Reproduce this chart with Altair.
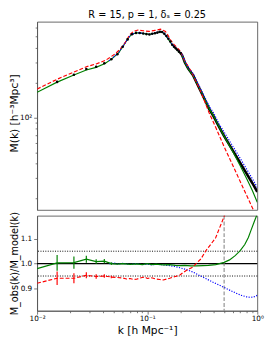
import altair as alt
import pandas as pd

FONT = "DejaVu Sans"
AX = "#555555"

# ---------------- top panel: M(k) ----------------
# observed M(k): binned points (black dots) and the dense high-k part (thick black)
k_obs_pts = [0.0152, 0.0216, 0.0280, 0.0344, 0.0408, 0.0472, 0.0536, 0.0600, 0.0664, 0.0728,
             0.0792, 0.0856, 0.0920, 0.0984, 0.1048, 0.1112, 0.1176, 0.1240, 0.1304, 0.1368,
             0.1432, 0.1496, 0.1560, 0.1624, 0.1688, 0.1752, 0.1816, 0.1880, 0.1944, 0.2008]
m_obs_pts = [203, 234, 262, 274, 294, 318, 352, 408, 472, 522,
             537, 536, 530, 524, 521, 527, 533, 540, 548, 546,
             528, 505, 478, 452, 425, 408, 395, 382, 370, 360]
k_obs_line = [0.2008, 0.2072, 0.2136, 0.22, 0.236, 0.261, 0.298, 0.341, 0.365, 0.4,
              0.45, 0.5, 0.6, 0.7, 0.8, 0.9, 1.0]
m_obs_line = [360, 346, 322, 298, 264, 232, 178, 137, 119, 103,
              83, 69.2, 51.8, 40.6, 32.9, 27.3, 22.9]

k_green = [0.010, 0.0152, 0.0216, 0.028, 0.0343, 0.0414, 0.048, 0.055, 0.0608, 0.0673,
           0.072, 0.0796, 0.088, 0.0965, 0.1045, 0.1156, 0.1324, 0.1417, 0.152, 0.168,
           0.192, 0.206, 0.22, 0.236, 0.261, 0.298, 0.341, 0.365, 0.4, 0.45,
           0.5, 0.6, 0.7, 0.8, 0.9, 1.0]
m_green = [165, 202, 233, 257, 271, 292, 322, 361, 416, 483,
           521, 538, 535, 527, 521, 532, 550, 532, 489, 425,
           373, 350, 298, 262, 231, 180, 138, 120, 104, 83.5,
           69, 50.8, 38.5, 29.9, 23.6, 18.6]

k_red = [0.010, 0.0152, 0.0216, 0.028, 0.0344, 0.042, 0.0514, 0.057, 0.063, 0.0697,
         0.0757, 0.0824, 0.092, 0.1045, 0.118, 0.1324, 0.1466, 0.155, 0.162, 0.175,
         0.192, 0.2, 0.22, 0.25, 0.278, 0.3, 0.34, 0.365, 0.42, 0.5,
         0.6, 0.7, 0.8, 0.9, 1.0]
m_red = [176, 214, 247, 274, 290, 312, 355, 390, 442, 520,
         556, 568, 560, 553, 565, 578, 552, 510, 470, 428,
         390, 375, 306, 252, 205, 176, 131, 110, 82, 56.1,
         38.6, 28.1, 21.4, 16.8, 13.4]

k_blue = [0.045, 0.055, 0.0608, 0.0673, 0.072, 0.0796, 0.088, 0.0965, 0.1045, 0.1156,
          0.1324, 0.1417, 0.152, 0.168, 0.192, 0.206, 0.22, 0.236, 0.261, 0.298,
          0.341, 0.365, 0.4, 0.45, 0.5, 0.6, 0.7, 0.8, 0.9, 1.0]
m_blue = [308, 362, 417, 484, 522, 538, 536, 528, 522, 534,
          553, 535, 493, 430, 378, 357, 306, 270, 240, 186,
          143, 126, 110, 88, 75, 56.5, 44.5, 36, 29.8, 25]

# ---------------- bottom panel: ratio ----------------
k_rg = [0.010, 0.0152, 0.0216, 0.0280, 0.0344, 0.0408, 0.0472, 0.0536, 0.060, 0.070,
        0.080, 0.090, 0.100, 0.110, 0.120, 0.140, 0.160, 0.180, 0.200, 0.220,
        0.250, 0.280, 0.320, 0.360, 0.420, 0.500, 0.560, 0.630, 0.700, 0.770,
        0.830, 0.880, 0.940, 1.0]
r_green = [0.980, 1.003, 1.004, 1.018, 1.008, 1.010, 1.000, 0.998, 1.000, 0.997,
           0.999, 0.996, 1.000, 0.996, 0.998, 0.995, 0.996, 0.993, 0.992, 0.993,
           0.991, 0.991, 0.992, 0.993, 0.996, 1.005, 1.015, 1.032, 1.052, 1.077,
           1.105, 1.136, 1.170, 1.200]

k_rr = [0.010, 0.0152, 0.0216, 0.0280, 0.0344, 0.0408, 0.0472, 0.0536, 0.060, 0.065,
        0.070, 0.075, 0.080, 0.085, 0.090, 0.095, 0.100, 0.110, 0.120, 0.130,
        0.140, 0.150, 0.160, 0.170, 0.180, 0.190, 0.200, 0.210, 0.228, 0.259,
        0.278, 0.308, 0.340, 0.377, 0.418, 0.447, 0.478, 0.510, 0.550]
r_red = [0.921, 0.941, 0.941, 0.953, 0.948, 0.950, 0.946, 0.944, 0.942, 0.938,
         0.940, 0.936, 0.937, 0.941, 0.944, 0.946, 0.940, 0.943, 0.938, 0.936,
         0.934, 0.938, 0.941, 0.945, 0.948, 0.951, 0.955, 0.963, 0.973, 0.986,
         1.000, 1.019, 1.051, 1.077, 1.103, 1.136, 1.168, 1.200, 1.250]

k_rb = [0.045, 0.050, 0.055, 0.060, 0.070, 0.080, 0.090, 0.100, 0.110, 0.120,
        0.140, 0.160, 0.180, 0.200, 0.230, 0.260, 0.300, 0.340, 0.400, 0.450,
        0.500, 0.580, 0.650, 0.720, 0.800, 0.870, 0.930, 1.0]
r_blue = [1.000, 1.002, 0.998, 1.001, 0.997, 1.000, 0.996, 0.998, 0.995, 0.997,
          0.995, 0.992, 0.988, 0.983, 0.975, 0.966, 0.952, 0.940, 0.924, 0.914,
          0.904, 0.890, 0.880, 0.872, 0.866, 0.864, 0.866, 0.872]

k_err = [0.0152, 0.0216, 0.0280, 0.0344, 0.0408, 0.0472]
g_err_mid = [1.003, 1.004, 1.018, 1.008, 1.010, 1.000]
g_err = [0.032, 0.025, 0.014, 0.010, 0.009, 0.006]
r_err_mid = [0.941, 0.941, 0.953, 0.948, 0.950, 0.946]
r_err = [0.027, 0.020, 0.012, 0.009, 0.007, 0.005]

ref_lines = [1.0, 1.05, 0.95]
k_cut = [0.5]

# tick positions
x_ticks = [0.01, 0.02, 0.03, 0.04, 0.05, 0.06, 0.07, 0.08, 0.09,
           0.1, 0.2, 0.3, 0.4, 0.5, 0.6, 0.7, 0.8, 0.9, 1.0]
y_ticks_top = [20, 30, 40, 50, 60, 70, 80, 90, 100, 200, 300, 400, 500, 600]
y_ticks_bot = [0.9, 1.0, 1.1]

W, H_TOP, H_BOT = 227, 194, 98

xs = alt.Scale(type="log", domain=[0.01, 1])
ys_top = alt.Scale(type="log", domain=[16, 670])
ys_bot = alt.Scale(domain=[0.81, 1.193])

x_major = "datum.value == 0.01 || datum.value == 0.1 || datum.value == 1"

y_axis_top = alt.Axis(
    values=y_ticks_top,
    labelExpr="datum.value == 100 ? '10²' : ''",
    title="M(k) [h⁻³Mpc³]",
    titleFontSize=11, titleFontWeight="normal",
    titleX=-18, titleY=H_TOP / 2 - 3,
    labelFontSize=7.5, labelPadding=2, labelOverlap=False,
    tickSize={"condition": {"test": "datum.value == 100", "value": 3.5}, "value": 2},
    tickWidth=0.8, grid=False,
)
y_axis_bot = alt.Axis(
    values=y_ticks_bot, format=".1f",
    title="M_obs(k)/M_model(k)",
    titleFontSize=10, titleFontWeight="normal",
    titleX=-18, titleY=H_BOT / 2,
    labelFontSize=7.5, labelPadding=2, tickSize=3.5, tickWidth=0.8,
    labelOverlap=False, grid=False,
)
x_axis_bot = alt.Axis(
    values=x_ticks,
    labelExpr="datum.value == 0.01 ? '10⁻²' : datum.value == 0.1 ? '10⁻¹' : datum.value == 1 ? '10⁰' : ''",
    title="k [h Mpc⁻¹]",
    titleFontSize=11, titleFontWeight="normal", titlePadding=2,
    labelFontSize=7.5, labelPadding=1, labelFlush=False, labelOverlap=False,
    tickSize={"condition": {"test": x_major, "value": 3.5}, "value": 2},
    tickWidth=0.8, grid=False,
)

def top_x():
    return alt.X("k:Q", scale=xs, axis=None)

def top_y():
    return alt.Y("M:Q", scale=ys_top, axis=y_axis_top)

def bot_x():
    return alt.X("k:Q", scale=xs, axis=x_axis_bot)

def bot_y():
    return alt.Y("r:Q", scale=ys_bot, axis=y_axis_bot)

df_obs_pts = pd.DataFrame({"k": k_obs_pts, "M": m_obs_pts})
df_obs_line = pd.DataFrame({"k": k_obs_line, "M": m_obs_line})
df_green = pd.DataFrame({"k": k_green, "M": m_green})
df_red = pd.DataFrame({"k": k_red, "M": m_red})
df_blue = pd.DataFrame({"k": k_blue, "M": m_blue})

obs_line = alt.Chart(df_obs_line).mark_line(color="black", strokeWidth=2.6, clip=True).encode(x=top_x(), y=top_y())
green_line = alt.Chart(df_green).mark_line(color="green", strokeWidth=1.2, clip=True).encode(x=top_x(), y=top_y())
red_line = alt.Chart(df_red).mark_line(color="red", strokeWidth=1.2, strokeDash=[4, 2], clip=True).encode(x=top_x(), y=top_y())
blue_line = alt.Chart(df_blue).mark_line(color="blue", strokeWidth=1.2, strokeDash=[1.2, 1.5], clip=True).encode(x=top_x(), y=top_y())
obs_pts = alt.Chart(df_obs_pts).mark_circle(color="black", size=7, opacity=1).encode(x=top_x(), y=top_y())

top = alt.layer(obs_line, green_line, red_line, blue_line, obs_pts).properties(
    width=W, height=H_TOP,
    title=alt.TitleParams(text="R = 15, p = 1, δₛ = 0.25", fontSize=10, fontWeight="normal",
                          font=FONT, anchor="middle", frame="group", offset=2, color="black"),
)

df_rg = pd.DataFrame({"k": k_rg, "r": r_green})
df_rr = pd.DataFrame({"k": k_rr, "r": r_red})
df_rb = pd.DataFrame({"k": k_rb, "r": r_blue})
df_eg = pd.DataFrame({"k": k_err, "lo": [m - e for m, e in zip(g_err_mid, g_err)],
                      "hi": [m + e for m, e in zip(g_err_mid, g_err)]})
df_er = pd.DataFrame({"k": k_err, "lo": [m - e for m, e in zip(r_err_mid, r_err)],
                      "hi": [m + e for m, e in zip(r_err_mid, r_err)]})
df_ref = pd.DataFrame({"r": ref_lines, "kind": ["solid", "dot", "dot"]})
df_cut = pd.DataFrame({"k": k_cut})

ref_solid = alt.Chart(df_ref[df_ref.kind == "solid"]).mark_rule(color="black", strokeWidth=1.2).encode(y=bot_y())
ref_dot = alt.Chart(df_ref[df_ref.kind == "dot"]).mark_rule(color="black", strokeWidth=1, strokeDash=[1, 1.5]).encode(y=bot_y())
cut = alt.Chart(df_cut).mark_rule(color="gray", strokeWidth=1.3, strokeDash=[4, 2], opacity=0.8).encode(x=bot_x())
rg = alt.Chart(df_rg).mark_line(color="green", strokeWidth=1.2, clip=True).encode(x=bot_x(), y=bot_y())
rr = alt.Chart(df_rr).mark_line(color="red", strokeWidth=1.2, strokeDash=[4, 2], clip=True).encode(x=bot_x(), y=bot_y())
rb = alt.Chart(df_rb).mark_line(color="blue", strokeWidth=1.2, strokeDash=[1.2, 1.5], clip=True).encode(x=bot_x(), y=bot_y())
eg = alt.Chart(df_eg).mark_rule(color="green", strokeWidth=1.2).encode(
    x=bot_x(), y=alt.Y("lo:Q", scale=ys_bot, axis=y_axis_bot), y2="hi:Q")
er = alt.Chart(df_er).mark_rule(color="red", strokeWidth=1.2).encode(
    x=bot_x(), y=alt.Y("lo:Q", scale=ys_bot, axis=y_axis_bot), y2="hi:Q")

bottom = alt.layer(ref_solid, ref_dot, cut, rb, rg, rr, eg, er).properties(width=W, height=H_BOT)

chart = alt.vconcat(top, bottom, spacing=0).properties(
    padding={"left": 0, "top": -4, "right": 2, "bottom": 0}
).configure_view(
    stroke=AX, strokeWidth=0.9
).configure_axis(
    domainColor=AX, tickColor=AX, labelColor="black", titleColor="black",
    labelFont=FONT, titleFont=FONT, domainWidth=0.9,
).configure_title(font=FONT)

chart.save("out.html", embed_options={"renderer": "svg", "actions": False})
